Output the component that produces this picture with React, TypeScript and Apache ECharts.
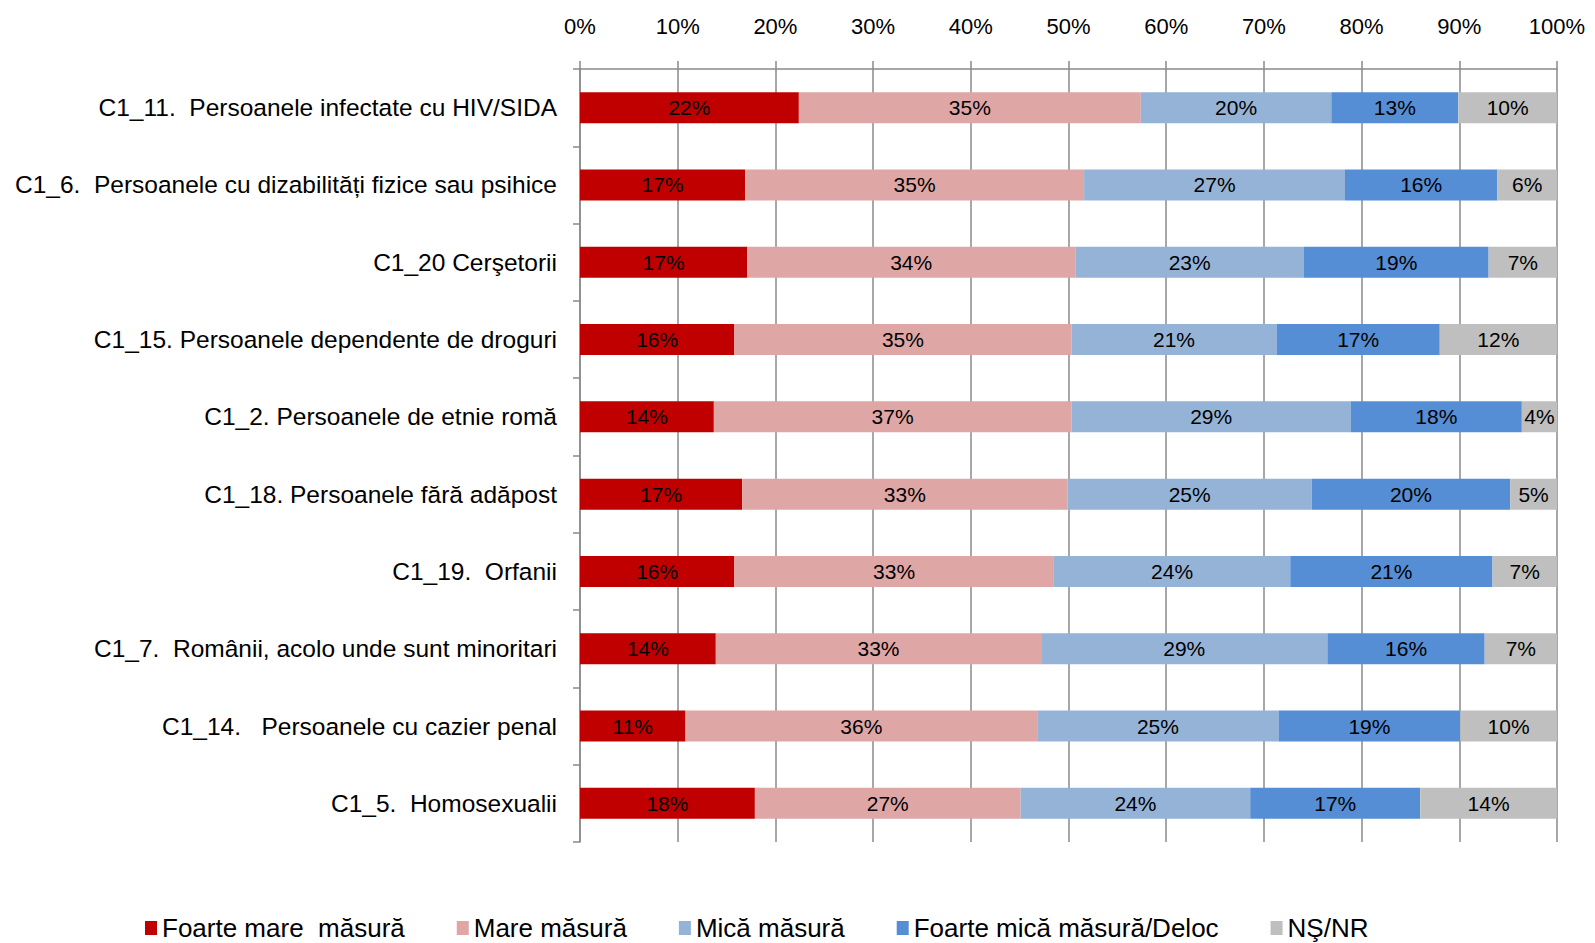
import React, { useEffect, useRef } from "react";
import * as echarts from "echarts";

const categories = [
  "C1_11.  Persoanele infectate cu HIV/SIDA",
  "C1_6.  Persoanele cu dizabilități fizice sau psihice",
  "C1_20 Cerşetorii",
  "C1_15. Persoanele dependente de droguri",
  "C1_2. Persoanele de etnie romă",
  "C1_18. Persoanele fără adăpost",
  "C1_19.  Orfanii",
  "C1_7.  Românii, acolo unde sunt minoritari",
  "C1_14.   Persoanele cu cazier penal",
  "C1_5.  Homosexualii",
];

const seriesNames = [
  "Foarte mare  măsură",
  "Mare măsură",
  "Mică măsură",
  "Foarte mică măsură/Deloc",
  "NŞ/NR",
];

const foarteMare = [22.4, 16.9, 17.1, 15.8, 13.7, 16.6, 15.8, 13.9, 10.8, 17.9];
const mare = [35.0, 34.7, 33.6, 34.5, 36.6, 33.3, 32.7, 33.3, 36.0, 27.2];
const mica = [19.5, 26.7, 23.4, 21.0, 28.6, 25.0, 24.2, 29.3, 24.7, 23.5];
const foarteMica = [13.0, 15.6, 18.9, 16.7, 17.5, 20.3, 20.7, 16.1, 18.6, 17.4];
const nsnr = [10.1, 6.1, 7.0, 12.0, 3.6, 4.8, 6.6, 7.4, 9.9, 14.0];

const xTicks = [0, 10, 20, 30, 40, 50, 60, 70, 80, 90, 100];

const colors = ["#c00000", "#dfa6a6", "#95b3d7", "#558ed5", "#bfbfbf"];

export default function App() {
  const ref = useRef<HTMLDivElement>(null);

  useEffect(() => {
    if (!ref.current) return;
    const chart = echarts.init(ref.current, null, { renderer: "svg" });
    const values = [foarteMare, mare, mica, foarteMica, nsnr];
    const font = "'Liberation Sans', Arial, sans-serif";
    chart.setOption({
      animation: false,
      grid: { left: 580, right: 38, top: 69, bottom: 101, containLabel: false },
      xAxis: {
        type: "value",
        position: "top",
        min: 0,
        max: 100,
        interval: 10,
        axisLine: { show: true, lineStyle: { color: "#8a8a8a", width: 1.5 } },
        axisTick: { show: true, length: 8, lineStyle: { color: "#8a8a8a", width: 1.5 } },
        splitLine: { show: true, lineStyle: { color: "#8a8a8a", width: 1.5 } },
        axisLabel: {
          margin: 32,
          formatter: (v: number) => (xTicks.includes(v) ? v + "%" : ""),
          fontFamily: font,
          fontSize: 22,
          color: "#000",
        },
      },
      yAxis: {
        type: "category",
        inverse: true,
        data: categories,
        axisLine: { show: true, lineStyle: { color: "#8a8a8a", width: 1.5 } },
        axisTick: { show: true, length: 7, lineStyle: { color: "#8a8a8a", width: 1.5 } },
        axisLabel: {
          margin: 23,
          fontFamily: font,
          fontSize: 24.5,
          color: "#000",
        },
      },
      legend: {
        left: 145,
        top: 914,
        padding: 0,
        itemWidth: 12,
        itemHeight: 14,
        itemGap: 52,
        icon: "rect",
        textStyle: { fontFamily: font, fontSize: 26, lineHeight: 28, color: "#000" },
        data: seriesNames,
      },
      series: seriesNames.map((name, i) => ({
        name,
        type: "bar",
        stack: "total",
        barWidth: 31,
        data: values[i],
        itemStyle: { color: colors[i] },
        label: {
          show: true,
          position: "inside",
          formatter: (p: any) => Math.round(p.value) + "%",
          fontFamily: font,
          fontSize: 21,
          color: "#000",
        },
      })),
    });
    return () => chart.dispose();
  }, []);

  return <div ref={ref} style={{ width: 1595, height: 943, position: "absolute", left: 0, top: 0 }} />;
}
